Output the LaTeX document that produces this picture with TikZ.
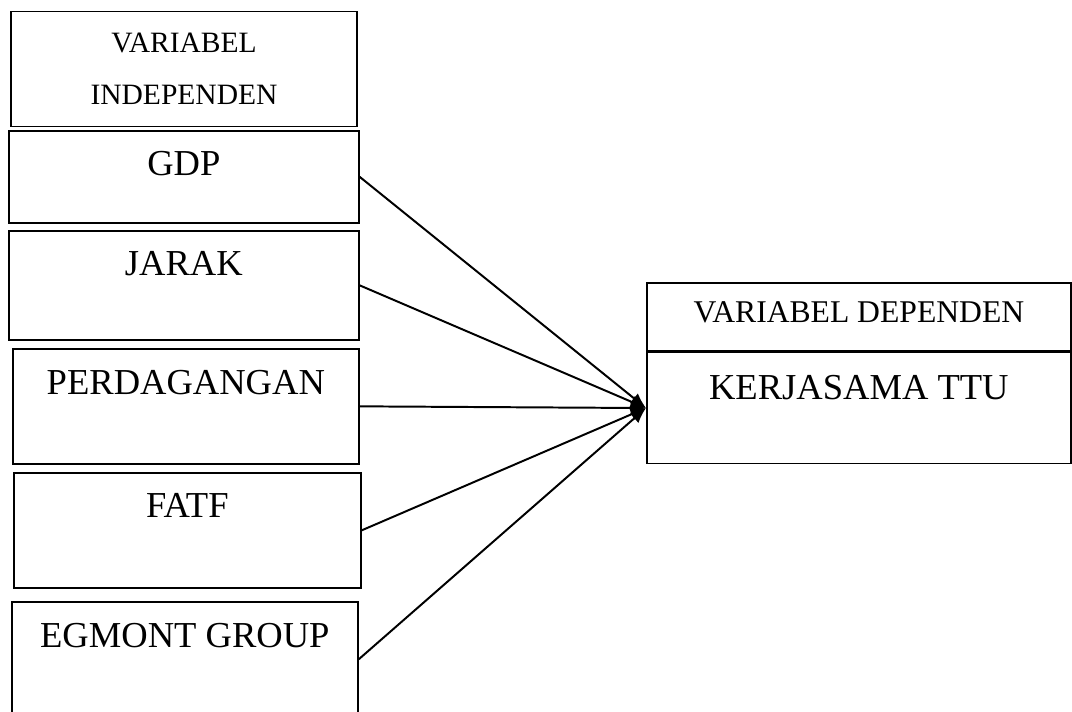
\documentclass[tikz,border=0pt]{standalone}
\usepackage{fontspec}
\setmainfont{Liberation Serif}
\usetikzlibrary{arrows.meta,positioning}

\tikzset{
	varbox/.style={draw, line width=1.2pt, rectangle, inner sep=0pt, anchor=north west,
		font=\fontsize{26}{30}\selectfont},
	hdrbox/.style={draw, line width=1.2pt, rectangle, inner sep=0pt, align=center},
	link/.style={-{Latex[length=11pt,width=9pt]}, line width=1.4pt},
}

\begin{document}
\begin{tikzpicture}
		\useasboundingbox (0,0) rectangle (26.8,17.775);
		
		% independent variables
		\node[hdrbox, minimum width=8.65cm, minimum height=2.875cm,
			font=\fontsize{21}{37}\selectfont] (indep) at (4.6,16.05) {VARIABEL\\INDEPENDEN};
		
		\node[varbox, minimum width=8.75cm, text height=1.125cm, text depth=1.175cm] (gdp) at (0.2,14.525) {GDP};
		\node[varbox, minimum width=8.75cm, text height=1.125cm, text depth=1.6cm] (jarak) at (0.2,12.025) {JARAK};
		\node[varbox, minimum width=8.65cm, text height=1.15cm, text depth=1.725cm] (dagang) at (0.3,9.075) {PERDAGANGAN};
		\node[varbox, minimum width=8.675cm, text height=1.125cm, text depth=1.75cm] (fatf) at (0.325,5.975) {FATF};
		\node[varbox, minimum width=8.65cm, text height=1.15cm, text depth=1.725cm] (egmont) at (0.275,2.75) {EGMONT GROUP};
		
		% dependent variable
		\node[varbox, minimum width=10.6cm, text height=1.0cm, text depth=0.7cm,
			font=\fontsize{22.5}{27}\selectfont] (dep) at (16.15,10.725) {VARIABEL DEPENDEN};
		\node[varbox, minimum width=10.6cm, text height=1.175cm, text depth=1.6cm] (ttu) at (dep.south west) {KERJASAMA TTU};
		
		\draw[link] (gdp.east) -- (ttu.west);
		\draw[link] (jarak.east) -- (ttu.west);
		\draw[link] (dagang.east) -- (ttu.west);
		\draw[link] (fatf.east) -- (ttu.west);
		\draw[link] (egmont.east) -- (ttu.west);
\end{tikzpicture}
\end{document}
